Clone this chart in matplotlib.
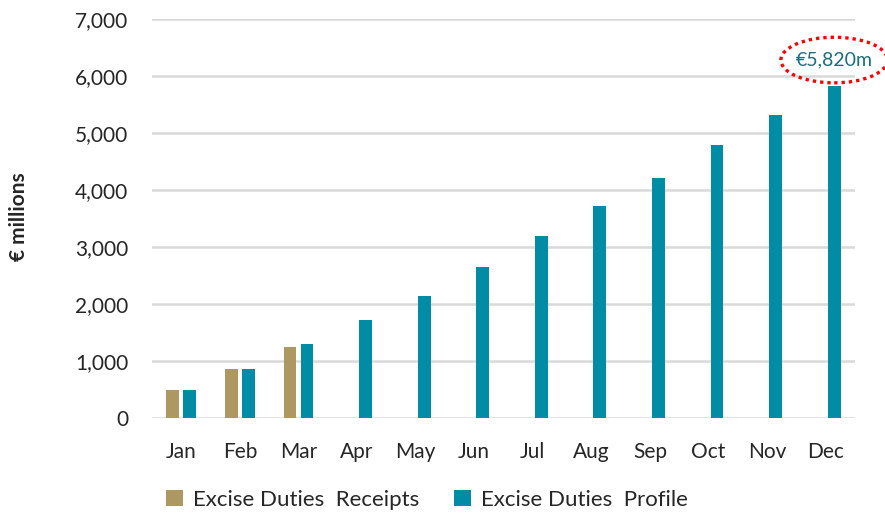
import matplotlib
matplotlib.use("Agg")
import matplotlib.pyplot as plt
from matplotlib.patches import Ellipse, Patch
import numpy as np

months = ["Jan", "Feb", "Mar", "Apr", "May", "Jun", "Jul", "Aug", "Sep", "Oct", "Nov", "Dec"]
receipts = [490, 860, 1240]
profile = [490, 855, 1300, 1720, 2140, 2650, 3190, 3720, 4210, 4785, 5315, 5820]
yticks = [0, 1000, 2000, 3000, 4000, 5000, 6000, 7000]
callout = "€5,820m"

tan = "#AE9861"
teal = "#008CA5"
grid_c = "#D9D9D9"
text_c = "#262626"

plt.rcParams["font.family"] = ["Lato", "DejaVu Sans"]

fig = plt.figure(figsize=(8.85, 5.17), dpi=100)
ax = fig.add_axes([152 / 885, 99 / 517, 703 / 885, 399 / 517])

x = np.arange(len(months))
w = 0.22
off = 0.145
ax.bar(x[:len(receipts)] - off, receipts, width=w, color=tan, zorder=3)
ax.bar(x + off, profile, width=w, color=teal, zorder=3)

ax.set_xlim(-0.5, len(months) - 0.5)
ax.set_ylim(0, 7000)
ax.set_yticks(yticks)
ax.set_yticklabels([f"{v:,}" for v in yticks])
ax.set_xticks(x)
ax.set_xticklabels(months)
ax.tick_params(axis="both", length=0, labelsize=15, colors=text_c)
ax.tick_params(axis="y", pad=17)
ax.tick_params(axis="x", pad=17)
ax.yaxis.grid(True, color=grid_c, linewidth=1.8, zorder=0)
for s in ax.spines.values():
    s.set_visible(False)

fig.text(19 / 885, 1 - 217 / 517, "€ millions", rotation=90, ha="center", va="center",
         fontsize=15, fontweight="bold", color=text_c)

# Year-end callout above the December bar
cx, cy = x[-1] + off, 6280
ax.text(cx, cy, callout, ha="center", va="center", fontsize=14, color="#1F6E7D", zorder=5)
ax.add_patch(Ellipse((cx, cy), width=1.82, height=800, fill=False, edgecolor="#FF0000",
                     linestyle=(0, (1, 1.2)), linewidth=2.4, clip_on=False, zorder=5))

handles = [Patch(facecolor=tan, label="Excise Duties  Receipts"),
           Patch(facecolor=teal, label="Excise Duties  Profile")]
fig.legend(handles=handles, loc="center", bbox_to_anchor=(427 / 885, 1 - 500 / 517), ncol=2,
           frameon=False, fontsize=16, handlelength=0.75, handleheight=0.75,
           handletextpad=0.45, columnspacing=1.6, labelcolor=text_c)

fig.savefig("out.png", dpi=100)
